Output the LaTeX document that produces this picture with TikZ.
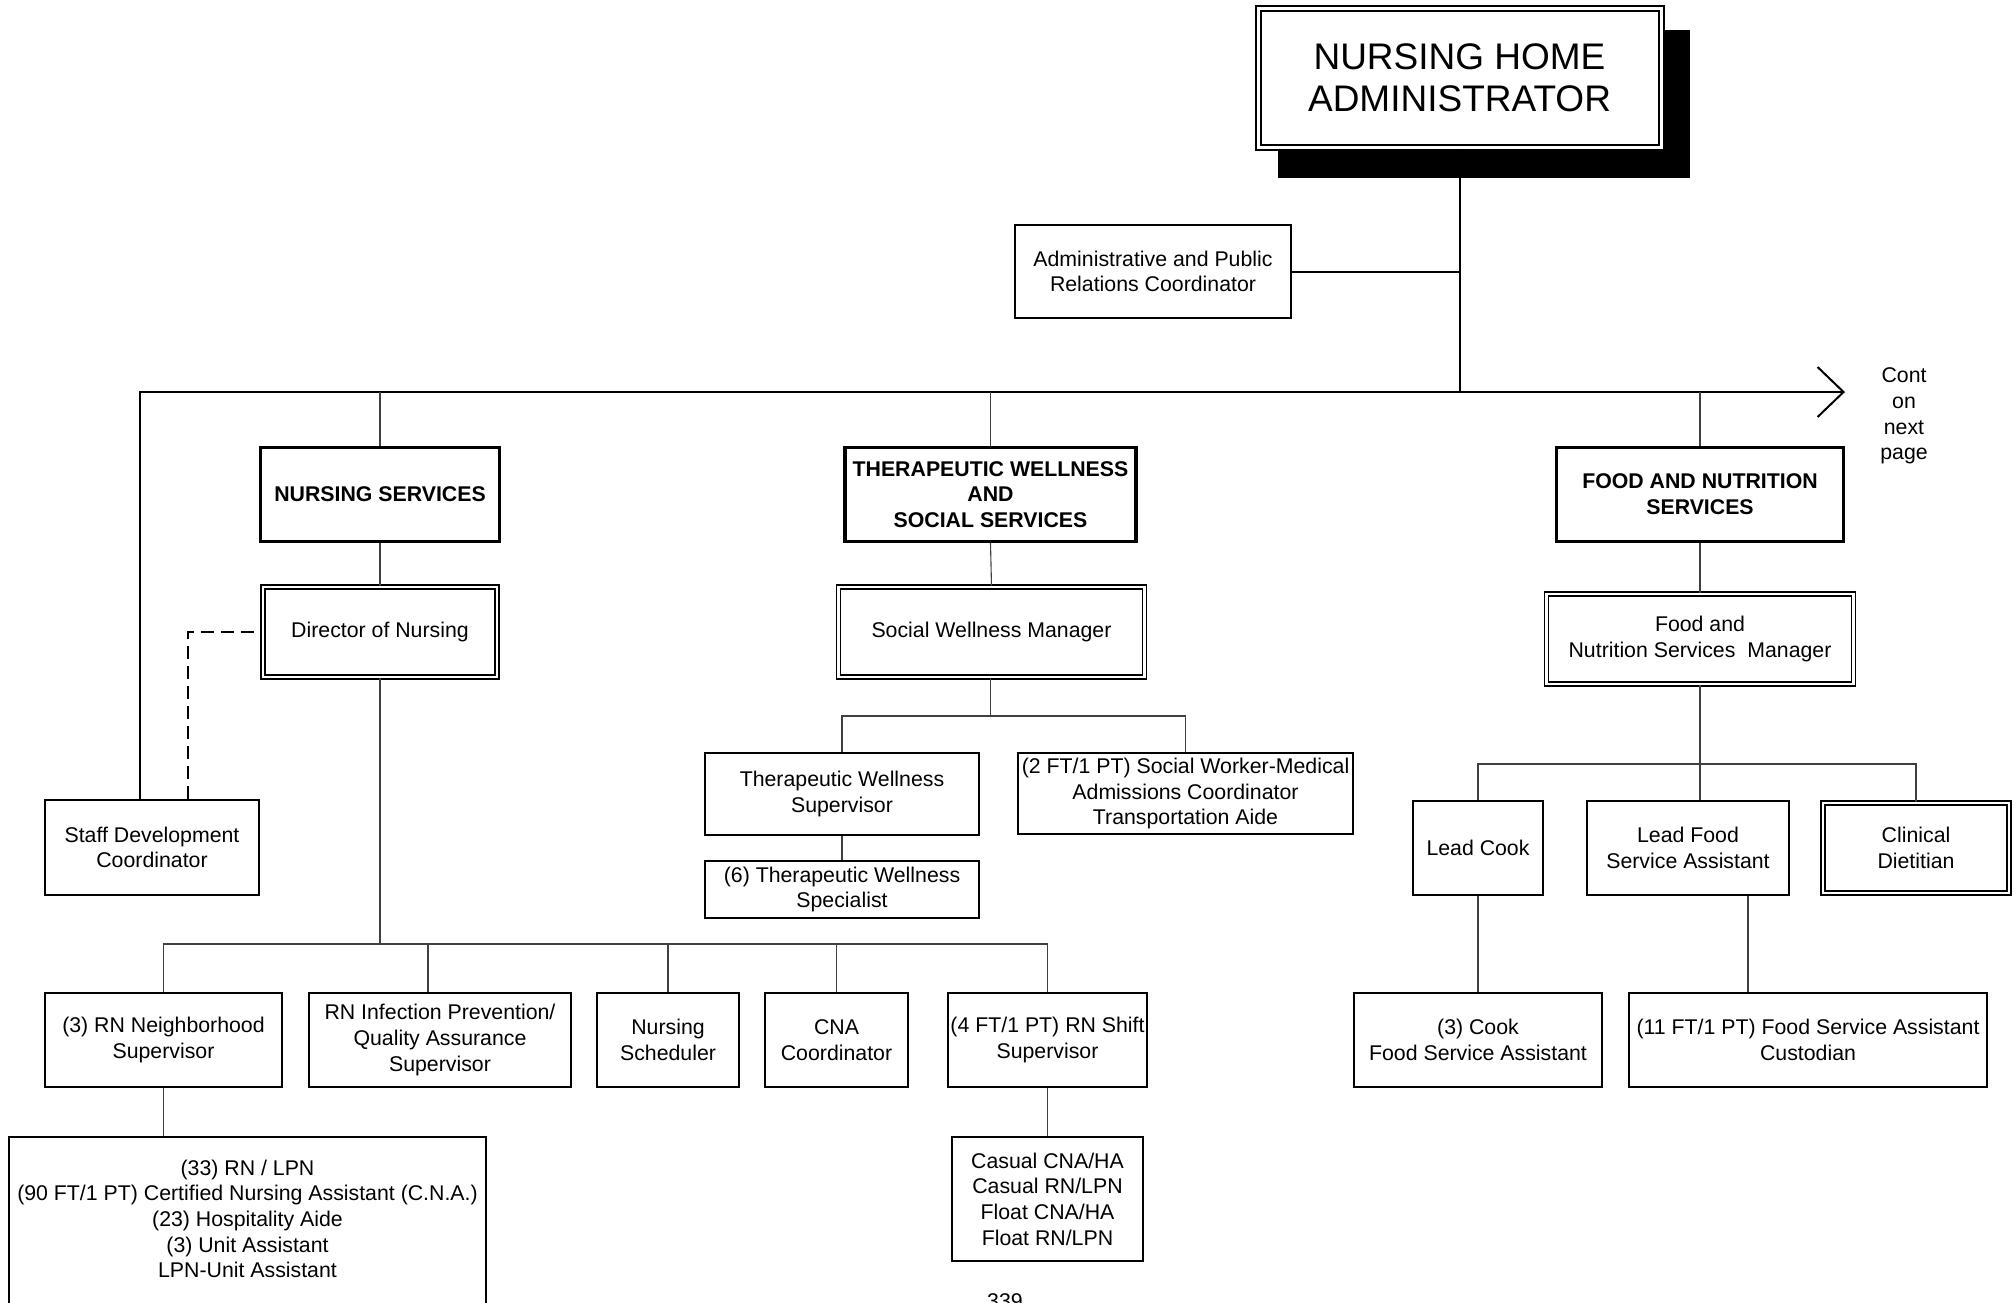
\documentclass[tikz,border=0pt]{standalone}
\usepackage{fontspec}
\setmainfont{Liberation Sans}
\usetikzlibrary{arrows.meta,calc}
\newcommand\chartfs{\fontsize{10.65}{12.85}\selectfont}
\newcommand\titlefs{\fontsize{18.5}{20.85}\selectfont}
\pgfdeclarelayer{background}
\pgfsetlayers{background,main}
\begin{document}
\begin{tikzpicture}[x=0.5pt,y=-0.5pt,
  base/.style={draw, line width=1pt, fill=white, align=center, inner sep=0pt, font=\chartfs},
  head/.style={base, line width=1.6pt, font=\chartfs\bfseries},
  dbl/.style={base, double, line width=0.8pt, double distance=1.3pt},
  trunk/.style={line width=1pt, black},
  link/.style={line width=0.55pt, black!75},
  note/.style={align=center, inner sep=0pt, font=\chartfs}]
\useasboundingbox (0,0) rectangle (2013,1302);

% top of the chart
\node[base, double, line width=1pt, double distance=1.5pt, font=\titlefs,
      minimum width=201.5pt, minimum height=69.5pt] (nha) at (1459.5,78)
      {NURSING HOME\\ADMINISTRATOR};
\begin{pgfonlayer}{background}
  \fill[black] ([shift={(21,22.5)}]nha.north west) rectangle ([shift={(28,29.5)}]nha.south east);
\end{pgfonlayer}
\node[base, minimum width=138pt, minimum height=46.5pt] (admin) at (1153,271.5)
      {Administrative and Public\\Relations Coordinator};

% department heads
\node[head, minimum width=119.5pt, minimum height=47pt] (nsv) at (380,494.5) {NURSING SERVICES};
\node[head, minimum width=145.5pt, minimum height=47pt] (tws) at (990.5,494.5)
      {THERAPEUTIC WELLNESS\\AND\\SOCIAL SERVICES};
\node[head, minimum width=143.5pt, minimum height=47pt] (fns) at (1700,494.5)
      {FOOD AND NUTRITION\\SERVICES};

% managers
\node[dbl, minimum width=117pt, minimum height=45pt] (dir) at (380,632) {Director of Nursing};
\node[dbl, minimum width=153pt, minimum height=45pt] (swm) at (991.5,632) {Social Wellness Manager};
\node[dbl, minimum width=153.5pt, minimum height=45pt] (fnm) at (1700,639)
      {Food and\\Nutrition Services\ \ Manager};
\node[base, minimum width=107pt, minimum height=47.5pt] (staff) at (152,847.5)
      {Staff Development\\Coordinator};

% therapeutic wellness and social services staff
\node[base, minimum width=137pt, minimum height=41pt] (tsup) at (842,794)
      {Therapeutic Wellness\\Supervisor};
\node[base, minimum width=137pt, minimum height=28.5pt] (tspec) at (842,889.5)
      {(6) Therapeutic Wellness\\Specialist};
\node[base, minimum width=167.5pt, minimum height=40.5pt] (sw) at (1185.5,793.5)
      {(2 FT/1 PT) Social Worker-Medical\\Admissions Coordinator\\Transportation Aide};

% nursing staff
\node[base, minimum width=118.5pt, minimum height=47pt] (rnn) at (163.5,1040)
      {(3) RN Neighborhood\\Supervisor};
\node[base, minimum width=131pt, minimum height=47pt] (rni) at (440,1040)
      {RN Infection Prevention/\\Quality Assurance\\Supervisor};
\node[base, minimum width=71pt, minimum height=47pt] (sched) at (668,1040)
      {Nursing\\Scheduler};
\node[base, minimum width=71.5pt, minimum height=47pt] (cna) at (836.5,1040)
      {CNA\\Coordinator};
\node[base, minimum width=99.5pt, minimum height=47pt] (rns) at (1047.5,1040)
      {(4 FT/1 PT) RN Shift\\Supervisor};
\node[base, minimum width=238.5pt, minimum height=94.5pt] (nlist) at (247.5,1231.5)
      {(33) RN / LPN\\(90 FT/1 PT) Certified Nursing Assistant (C.N.A.)\\(23) Hospitality Aide\\(3) Unit Assistant\\LPN-Unit Assistant\\[-4pt]\strut};
\node[base, minimum width=95.5pt, minimum height=62pt] (casual) at (1047.5,1199)
      {Casual CNA/HA\\Casual RN/LPN\\Float CNA/HA\\Float RN/LPN};

% food and nutrition staff
\node[base, minimum width=65pt, minimum height=47pt] (lcook) at (1478,848) {Lead Cook};
\node[base, minimum width=101pt, minimum height=47pt] (lfood) at (1688,848)
      {Lead Food\\Service Assistant};
\node[dbl, minimum width=93pt, minimum height=45pt] (clin) at (1916,848) {Clinical\\Dietitian};
\node[base, minimum width=124pt, minimum height=47pt] (cook) at (1478,1040)
      {(3) Cook\\Food Service Assistant};
\node[base, minimum width=179pt, minimum height=47pt] (fsa) at (1808,1040)
      {(11 FT/1 PT) Food Service Assistant\\Custodian};

% free texts
\node[note] (cont) at (1904,416) {Cont\\on\\next\\page};
\node[note, anchor=north] (pageno) at (1005,1293) {339};

% trunk lines
\coordinate (busL) at (140,392);
\coordinate (busR) at (1845,392);
\draw[trunk] (nha.south) -- (nha.south |- busL);
\draw[trunk] (admin.east) -- (admin.east -| nha.south);
\draw[trunk, -{Straight Barb[length=13pt,width=25pt]}] (staff.north -| busL) -- (busL) -- (busR);

% department branches
\draw[link] (nsv.north) -- (nsv.north |- busL);
\draw[link] (tws.north) -- (tws.north |- busL);
\draw[link] (fns.north) -- (fns.north |- busL);
\draw[link] (nsv.south) -- (dir.north);
\draw[link] (tws.south) -- (swm.north);
\draw[link] (fns.south) -- (fnm.north);
\draw[line width=0.8pt, dash pattern=on 6.5pt off 3.5pt] ([xshift=18pt]staff.north) |- (dir.west);

% nursing
\coordinate (nbus) at (380,944);
\draw[link] (dir.south) -- (nbus);
\draw[link] (rnn.north) |- (nbus) -| (rns.north);
\draw[link] ([xshift=-6pt]rni.north) -- ([xshift=-6pt]rni.north |- nbus);
\draw[link] (sched.north) -- (sched.north |- nbus);
\draw[link] (cna.north) -- (cna.north |- nbus);
\draw[link] (rnn.south) -- (rnn.south |- nlist.north);
\draw[link] (rns.south) -- (casual.north);

% therapeutic wellness
\coordinate (tbus) at (990.5,716);
\draw[link] (swm.south -| tbus) -- (tbus);
\draw[link] (tsup.north) |- (tbus) -| (sw.north);
\draw[link] (tsup.south) -- (tspec.north);

% food and nutrition
\coordinate (fbus) at (1700,764);
\draw[link] (fnm.south) -- (fbus);
\draw[link] (lcook.north) |- (fbus) -| (clin.north);
\draw[link] (fbus) -- (fbus |- lfood.north);
\draw[link] (lcook.south) -- (cook.north);
\draw[link] ([xshift=30pt]lfood.south) -- ([xshift=30pt]lfood.south |- fsa.north);
\end{tikzpicture}
\end{document}
